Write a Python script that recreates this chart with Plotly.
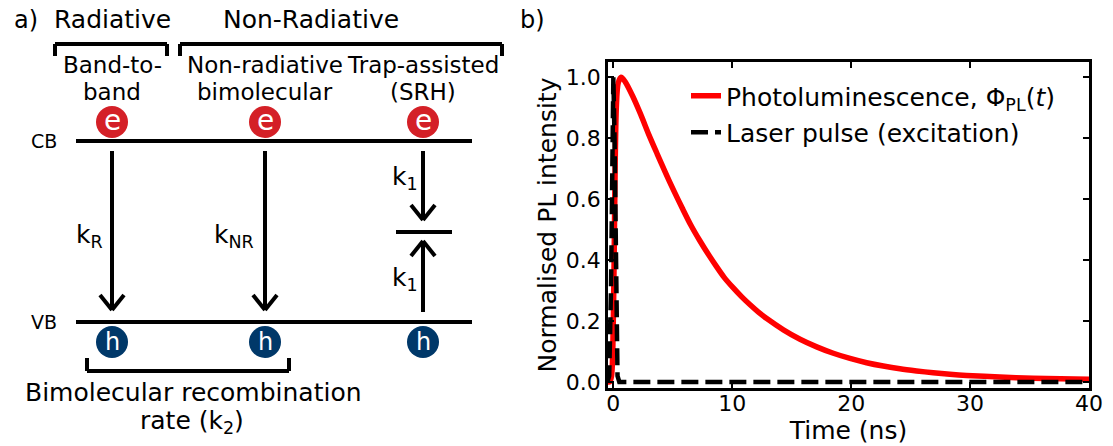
import plotly.graph_objects as go

W, H = 1113, 446
FONT = "DejaVu Sans"

# ---- panel b data: normalised transients ----
pl_time = [-0.5, -0.3, -0.15, -0.05, 0.05, 0.15, 0.25, 0.4, 0.65, 1.0, 1.6,
           2.3, 3.0, 3.7, 4.4, 5.1, 5.8, 6.5, 7.25, 8.0, 8.65, 9.3, 10.05,
           10.8, 11.5, 12.2, 12.9, 14.3, 15.7, 17.1, 18.5, 19.9, 21.3, 22.7,
           24.1, 25.5, 26.9, 28.3, 29.7, 32.5, 35.3, 37.6, 40.0]
pl_intensity = [0.0, 0.0, 0.02, 0.1, 0.35, 0.7, 0.9, 0.98, 1.0, 0.985, 0.94,
                0.878, 0.81, 0.747, 0.685, 0.626, 0.57, 0.516, 0.465, 0.418,
                0.38, 0.344, 0.31, 0.279, 0.253, 0.229, 0.208, 0.171, 0.14,
                0.115, 0.094, 0.077, 0.063, 0.052, 0.043, 0.036, 0.030, 0.025,
                0.021, 0.016, 0.012, 0.010, 0.009]

laser_time = [-0.5, -0.35, -0.2, -0.1, 0.0, 0.1, 0.2, 0.35, 0.5, 40.0]
laser_intensity = [0.0, 0.02, 0.3, 0.8, 1.0, 0.8, 0.3, 0.02, 0.0, 0.0]

x_ticks = [0, 10, 20, 30, 40]
y_ticks = [0.0, 0.2, 0.4, 0.6, 0.8, 1.0]

# ---- panel a labels ----
column_titles = [["Band-to-", "band"], ["Non-radiative", "bimolecular"],
                 ["Trap-assisted", "(SRH)"]]
rate_labels = ["k<sub>R</sub>", "k<sub>NR</sub>"]


def px(x):
    return x / W


def py(y):
    return 1 - y / H


fig = go.Figure()

fig.add_trace(go.Scatter(
    x=pl_time, y=pl_intensity, mode="lines",
    line=dict(color="#ff0000", width=5.5, shape="spline", smoothing=0.8),
    name="Photoluminescence, Φ<sub>PL</sub>(<i>t</i>)", legendgroup="pl",
))
fig.add_trace(go.Scatter(
    x=laser_time, y=laser_intensity, mode="lines",
    line=dict(color="#000000", width=4.5, dash="17px,7px"),
    name="Laser pulse (excitation)", legendgroup="laser",
))

axis_common = dict(
    showline=True, linecolor="black", linewidth=2.5, mirror="allticks",
    ticks="inside", ticklen=6, tickwidth=2, tickcolor="black",
    showgrid=False, zeroline=False, automargin=False,
    tickfont=dict(family=FONT, size=22, color="black"),
)

fig.update_layout(
    width=W, height=H,
    margin=dict(l=0, r=0, t=0, b=0),
    paper_bgcolor="white", plot_bgcolor="white",
    font=dict(family=FONT, color="black"),
    xaxis=dict(domain=[px(608), px(1089)], range=[-0.45, 40],
               tickvals=x_ticks, ticktext=[str(v) for v in x_ticks],
               ticklabelstandoff=-6,
               title=dict(text="Time (ns)", font=dict(size=25), standoff=6),
               **axis_common),
    yaxis=dict(domain=[py(388), py(62)], range=[-0.02, 1.05],
               tickvals=y_ticks, ticktext=[f"{v:.1f}" for v in y_ticks],
               title=dict(text="Normalised PL intensity", font=dict(size=25),
                          standoff=3),
               **axis_common),
    legend=dict(x=px(686), y=py(73), xanchor="left", yanchor="top",
                bgcolor="rgba(0,0,0,0)", tracegroupgap=1,
                font=dict(family=FONT, size=25, color="black")),
    showlegend=True,
)

shapes = []
annotations = []


def line(x0, y0, x1, y1, w=4):
    shapes.append(dict(type="line", xref="paper", yref="paper",
                       x0=px(x0), y0=py(y0), x1=px(x1), y1=py(y1),
                       line=dict(color="black", width=w)))


def text(x, y, s, size, color="black", anchor="center"):
    annotations.append(dict(x=px(x), y=py(y), xref="paper", yref="paper",
                            text=s, showarrow=False, xanchor=anchor,
                            yanchor="middle",
                            font=dict(family=FONT, size=size, color=color)))


def arrow(x, y_from, y_to):
    # shaft plus open chevron head at the tip
    line(x, y_from, x, y_to)
    d = 1 if y_to > y_from else -1
    line(x - 12, y_to - d * 15, x, y_to)
    line(x + 12, y_to - d * 15, x, y_to)


def bracket(x0, x1, y, tip):
    line(x0, y, x1, y)
    line(x0, y, x0, tip)
    line(x1, y, x1, tip)


cols = [112, 265, 423]
cb_y, vb_y = 141, 322

# panel letters and group headings
text(26, 20, "a)", 24)
text(532, 20, "b)", 24)
text(112, 19, "Radiative", 25)
text(311, 19, "Non-Radiative", 25)
bracket(55, 167, 44, 56)
bracket(180, 502, 44, 56)

for cx, (l1, l2) in zip(cols, column_titles):
    text(cx, 65, l1, 23)
    text(cx, 92, l2, 23)

# band edges
line(76, cb_y, 472, cb_y)
line(76, vb_y, 472, vb_y)
text(44, cb_y, "CB", 19)
text(44, vb_y, "VB", 19)

# carriers
for cx in cols:
    shapes.append(dict(type="circle", xref="paper", yref="paper",
                       x0=px(cx - 16), x1=px(cx + 16),
                       y0=py(122 + 16), y1=py(122 - 16),
                       fillcolor="#d42027", line=dict(width=0)))
    text(cx, 120, "e", 28, color="white")
    shapes.append(dict(type="circle", xref="paper", yref="paper",
                       x0=px(cx - 16), x1=px(cx + 16),
                       y0=py(342 + 16), y1=py(342 - 16),
                       fillcolor="#003869", line=dict(width=0)))
    text(cx, 342, "h", 24, color="white")

# recombination pathways
arrow(cols[0], 151, 310)
arrow(cols[1], 151, 310)
arrow(cols[2], 151, 220)
line(396, 232, 452, 232)
arrow(cols[2], 312, 241)

text(89, 236, rate_labels[0], 25)
text(234, 236, rate_labels[1], 25)
text(405, 178, "k<sub>1</sub>", 25)
text(405, 279, "k<sub>1</sub>", 25)

bracket(87, 289, 371, 358)
text(193, 392, "Bimolecular recombination", 25)
text(192, 422, "rate (k<sub>2</sub>)", 25)

fig.update_layout(shapes=shapes, annotations=annotations)

fig.write_html("out.html")
